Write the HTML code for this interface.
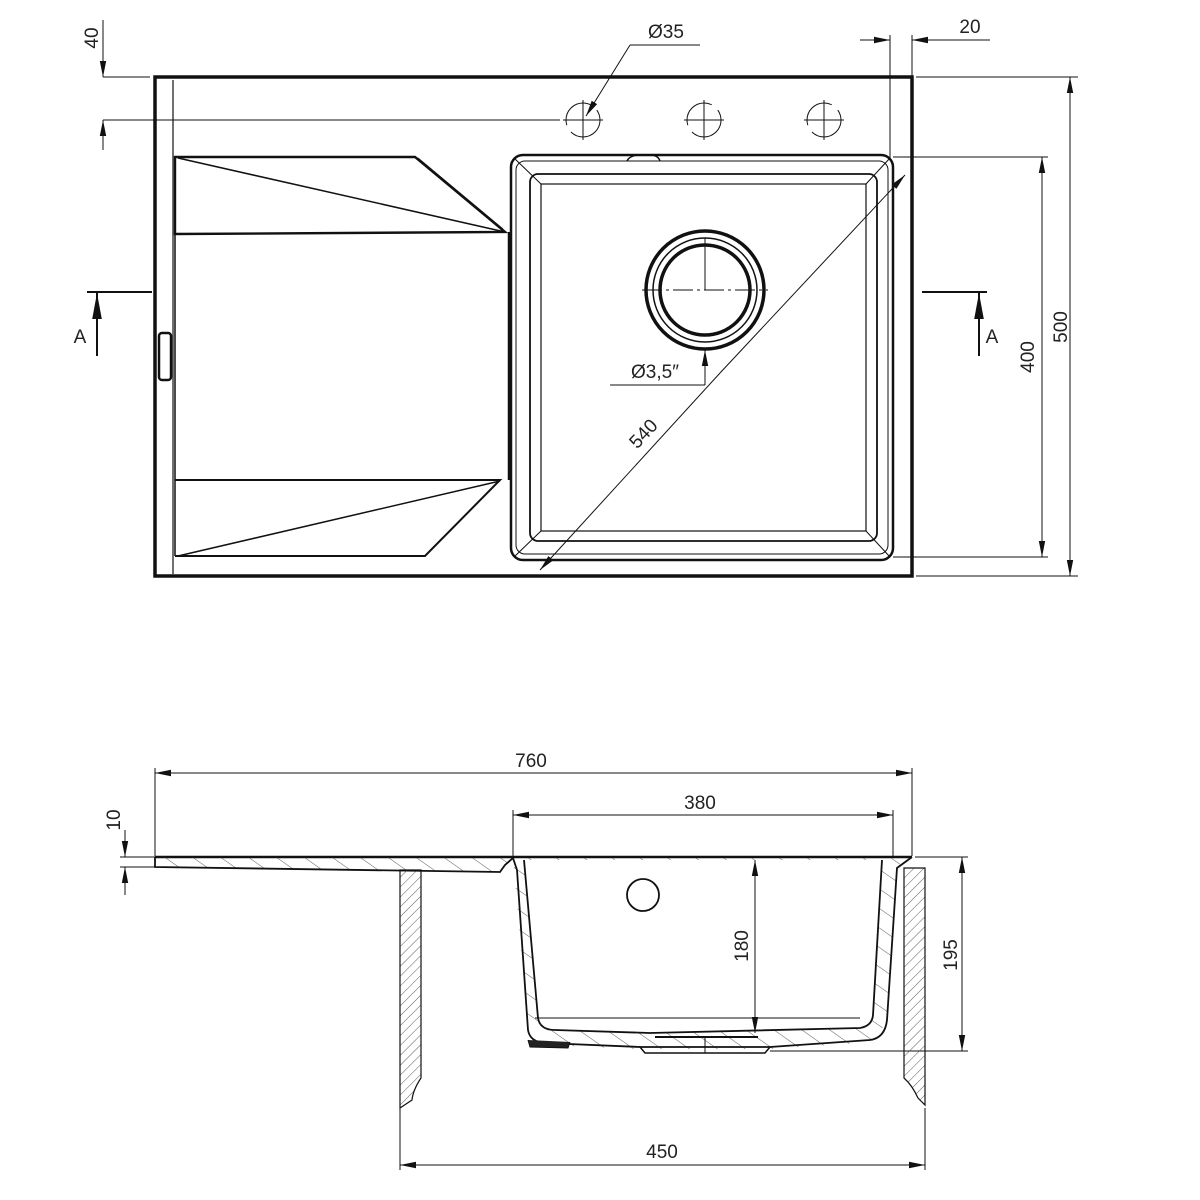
<!DOCTYPE html>
<html><head><meta charset="utf-8"><style>
html,body{margin:0;padding:0;background:#fff;}
svg{display:block;}
text{font-family:"Liberation Sans",sans-serif;font-size:19px;fill:#222;}
</style></head><body>
<svg width="1200" height="1200" viewBox="0 0 1200 1200" xmlns="http://www.w3.org/2000/svg">
<defs>
<marker id="ar" viewBox="0 0 10 10" preserveAspectRatio="none" refX="10" refY="5" markerWidth="16" markerHeight="8" markerUnits="userSpaceOnUse" orient="auto-start-reverse"><path d="M0,1 L10,5 L0,9 z" fill="#111"/></marker>
<marker id="ab" viewBox="0 0 10 10" preserveAspectRatio="none" refX="10" refY="5" markerWidth="26" markerHeight="12" markerUnits="userSpaceOnUse" orient="auto-start-reverse"><path d="M0,1 L10,5 L0,9 z" fill="#111"/></marker>
<pattern id="h1" width="7" height="7" patternUnits="userSpaceOnUse" patternTransform="rotate(45)"><line x1="0" y1="0" x2="0" y2="7" stroke="#333" stroke-width="0.8"/></pattern>
<pattern id="h2" width="16" height="16" patternUnits="userSpaceOnUse" patternTransform="rotate(-55)"><line x1="0" y1="0" x2="0" y2="16" stroke="#333" stroke-width="0.8"/></pattern>
</defs>
<g fill="none" stroke="#111">
<rect x="155" y="77" width="757" height="499" stroke-width="3.5"/>
<line x1="173" y1="80" x2="173" y2="574" stroke-width="1.2"/>
<rect x="159" y="333" width="12" height="47" rx="3" stroke-width="2.5"/>
<path d="M175,157 L415,157 L505,232 L175,234 Z" stroke-width="2.4"/>
<line x1="178" y1="158" x2="505" y2="232" stroke-width="1.5"/>
<path d="M418,158 L503,229" stroke-width="1"/>
<line x1="175" y1="157" x2="175" y2="556" stroke-width="1.5"/>
<path d="M175,480 L500,480 L425,556 L175,556" stroke-width="2"/>
<line x1="178" y1="556" x2="500" y2="481" stroke-width="1.5"/>
<line x1="509" y1="232" x2="509" y2="480" stroke-width="2.5"/>
<rect x="511" y="155" width="382" height="405" rx="12" stroke-width="2.5"/>
<rect x="516" y="161" width="372" height="393" rx="9" stroke-width="1"/>
<rect x="530" y="174" width="347" height="367" rx="8" stroke-width="1.8"/>
<rect x="541" y="184" width="325" height="347" stroke-width="1.2"/>
<line x1="514" y1="158" x2="541" y2="184" stroke-width="1"/>
<line x1="890" y1="158" x2="866" y2="184" stroke-width="1"/>
<line x1="514" y1="557" x2="541" y2="531" stroke-width="1"/>
<line x1="890" y1="557" x2="866" y2="531" stroke-width="1"/>
<path d="M627,161 Q630,155 640,155 L650,155 Q658,155 660,161" stroke-width="1.5"/>
<circle cx="705" cy="290" r="59" stroke-width="3.5"/>
<circle cx="705" cy="290" r="52" stroke-width="1.5"/>
<circle cx="705" cy="290" r="45" stroke-width="3.5"/>
<line x1="642" y1="290" x2="768" y2="290" stroke-width="1" stroke-dasharray="20,4,3,4"/>
<line x1="705" y1="238" x2="705" y2="290" stroke-width="1"/>
<g stroke-width="1">
<circle cx="583" cy="120" r="17" stroke-dasharray="40,8"/>
<line x1="563" y1="120" x2="603" y2="120"/><line x1="583" y1="100" x2="583" y2="140"/>
<circle cx="704" cy="120" r="17" stroke-dasharray="40,8"/>
<line x1="684" y1="120" x2="724" y2="120"/><line x1="704" y1="100" x2="704" y2="140"/>
<circle cx="824" cy="120" r="17" stroke-dasharray="40,8"/>
<line x1="804" y1="120" x2="844" y2="120"/><line x1="824" y1="100" x2="824" y2="140"/>
</g>
<g stroke-width="1">
<line x1="103" y1="77" x2="150" y2="77"/><line x1="103" y1="120" x2="560" y2="120"/>
<line x1="103" y1="20" x2="103" y2="77" marker-end="url(#ar)"/>
<line x1="103" y1="150" x2="103" y2="120" marker-end="url(#ar)"/>
<line x1="700" y1="45" x2="630" y2="45"/><line x1="630" y1="45" x2="586" y2="116" marker-end="url(#ar)"/>
<line x1="890" y1="35" x2="890" y2="158"/><line x1="912" y1="35" x2="912" y2="77"/>
<line x1="860" y1="40" x2="890" y2="40" marker-end="url(#ar)"/>
<line x1="990" y1="40" x2="912" y2="40" marker-end="url(#ar)"/>
<line x1="916" y1="77" x2="1078" y2="77"/><line x1="916" y1="576" x2="1078" y2="576"/>
<line x1="1070" y1="327" x2="1070" y2="77" marker-end="url(#ar)"/>
<line x1="1070" y1="327" x2="1070" y2="576" marker-end="url(#ar)"/>
<line x1="893" y1="157" x2="1048" y2="157"/><line x1="893" y1="557" x2="1048" y2="557"/>
<line x1="1042" y1="357" x2="1042" y2="157" marker-end="url(#ar)"/>
<line x1="1042" y1="357" x2="1042" y2="557" marker-end="url(#ar)"/>
<line x1="720" y1="373" x2="905" y2="175" marker-end="url(#ar)"/>
<line x1="720" y1="373" x2="540" y2="570" marker-end="url(#ar)"/>
<line x1="610" y1="385" x2="705" y2="385"/><line x1="705" y1="385" x2="705" y2="350" marker-end="url(#ar)"/>
</g>
<line x1="87" y1="292" x2="152" y2="292" stroke-width="2"/>
<line x1="97" y1="356" x2="97" y2="293" stroke-width="2" marker-end="url(#ab)"/>
<line x1="922" y1="292" x2="987" y2="292" stroke-width="2"/>
<line x1="979" y1="356" x2="979" y2="293" stroke-width="2" marker-end="url(#ab)"/>
<g stroke-width="1">
<line x1="155" y1="768" x2="155" y2="856"/><line x1="912" y1="768" x2="912" y2="856"/>
<line x1="530" y1="773" x2="155" y2="773" marker-end="url(#ar)"/>
<line x1="530" y1="773" x2="912" y2="773" marker-end="url(#ar)"/>
<line x1="513" y1="810" x2="513" y2="856"/><line x1="893" y1="810" x2="893" y2="856"/>
<line x1="700" y1="815" x2="513" y2="815" marker-end="url(#ar)"/>
<line x1="700" y1="815" x2="893" y2="815" marker-end="url(#ar)"/>
<line x1="120" y1="857" x2="155" y2="857"/><line x1="120" y1="867" x2="155" y2="867"/>
<line x1="125" y1="830" x2="125" y2="857" marker-end="url(#ar)"/>
<line x1="125" y1="895" x2="125" y2="867" marker-end="url(#ar)"/>
<line x1="915" y1="857" x2="968" y2="857"/><line x1="770" y1="1051" x2="968" y2="1051"/>
<line x1="962" y1="955" x2="962" y2="857" marker-end="url(#ar)"/>
<line x1="962" y1="955" x2="962" y2="1051" marker-end="url(#ar)"/>
<line x1="400" y1="1108" x2="400" y2="1170"/><line x1="925" y1="1108" x2="925" y2="1170"/>
<line x1="660" y1="1165" x2="400" y2="1165" marker-end="url(#ar)"/>
<line x1="660" y1="1165" x2="925" y2="1165" marker-end="url(#ar)"/>
</g>
<line x1="155" y1="857" x2="912" y2="857" stroke-width="2.5"/>
<path d="M155,857 L155,867 L500,872 L505,865 L513,858" fill="url(#h2)" stroke-width="1.8"/>
<path d="M513,858 L528,1030 L545,1045 L640,1049 L770,1049 L872,1042 L887,1022 L897,868 L905,858" fill="url(#h2)" stroke="none"/>
<path d="M513,858 L517,870 L528,1030 Q530,1042 545,1043 L640,1047 L770,1047 L870,1040 Q885,1038 887,1020 L897,868 L912,857" stroke-width="1.8"/>
<path d="M524,860 L538,1018 Q540,1030 555,1030 L650,1033 L860,1028 Q872,1026 873,1015 L882,860" fill="#fff" stroke-width="1.8"/>
<path d="M535,1018 L860,1018" stroke-width="1"/>
<path d="M528,1040 L530,1047 L568,1048 L570,1042" fill="#222" stroke-width="1"/>
<path d="M640,1047 L645,1053 L765,1053 L770,1047" stroke-width="1.5"/>
<line x1="655" y1="1037" x2="758" y2="1037" stroke-width="2"/>
<line x1="705" y1="1037" x2="705" y2="1053" stroke-width="1"/>
<circle cx="643" cy="895" r="16" stroke-width="1.8"/>
<line x1="755" y1="945" x2="755" y2="860" stroke-width="1" marker-end="url(#ar)"/>
<line x1="755" y1="945" x2="755" y2="1033" stroke-width="1" marker-end="url(#ar)"/>
<path d="M400,870 L421,870 L421,1078 Q413,1090 412,1100 L400,1108 Z" fill="url(#h1)" stroke-width="1.2"/>
<path d="M904,868 L925,868 L925,1105 L918,1098 Q912,1085 904,1078 Z" fill="url(#h1)" stroke-width="1.2"/>
</g>
<text x="666" y="38" text-anchor="middle">Ø35</text>
<text x="970" y="33" text-anchor="middle">20</text>
<text transform="translate(98,38) rotate(-90)" text-anchor="middle">40</text>
<text transform="translate(1067,327) rotate(-90)" text-anchor="middle">500</text>
<text transform="translate(1034,357) rotate(-90)" text-anchor="middle">400</text>
<text transform="translate(648,438) rotate(-47)" text-anchor="middle">540</text>
<text x="655" y="378" text-anchor="middle">Ø3,5″</text>
<text x="80" y="343" text-anchor="middle">A</text>
<text x="992" y="343" text-anchor="middle">A</text>
<text x="531" y="767" text-anchor="middle">760</text>
<text x="700" y="809" text-anchor="middle">380</text>
<text transform="translate(120,820) rotate(-90)" text-anchor="middle">10</text>
<text transform="translate(748,946) rotate(-90)" text-anchor="middle">180</text>
<text transform="translate(957,955) rotate(-90)" text-anchor="middle">195</text>
<text x="662" y="1158" text-anchor="middle">450</text>
</svg>
</body></html>
